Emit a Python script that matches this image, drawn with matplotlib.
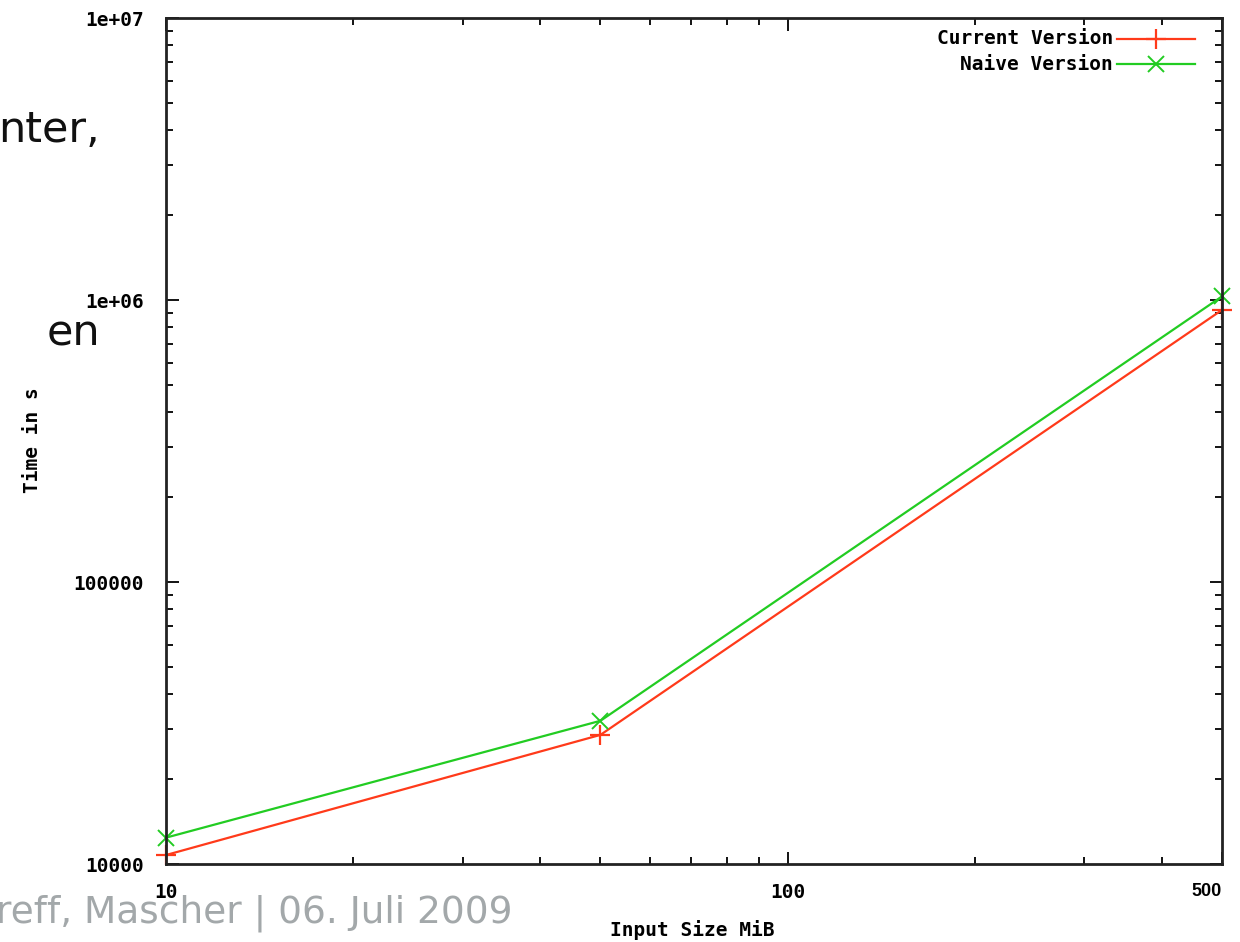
import matplotlib
matplotlib.use("Agg")
import matplotlib.pyplot as plt
from matplotlib.lines import Line2D
from matplotlib.ticker import LogLocator, NullFormatter, FixedLocator

# ---- data ----
input_size_mib = [10, 50, 500]
current_version = [10760, 28700, 922000]
naive_version = [12400, 32200, 1030000]
series_labels = ["Current Version", "Naive Version"]
x_tick_values = [10, 100, 500]
x_tick_labels = ["10", "100", "500"]
y_tick_values = [1e4, 1e5, 1e6, 1e7]
y_tick_labels = ["10000", "100000", "1e+06", "1e+07"]

W, H = 1240, 942
fig = plt.figure(figsize=(W / 100, H / 100), dpi=100)
fig.patch.set_facecolor("white")

L, R, T, B = 166, 1222, 18, 864
ax = fig.add_axes([L / W, (H - B) / H, (R - L) / W, (B - T) / H])
AW, AH = R - L, B - T

MONO = "DejaVu Sans Mono"
FS = 14
mono = {"family": MONO, "weight": "bold", "size": FS}

red = "#ff3a1a"
green = "#22cc22"
styles = [dict(color=red, marker="+", ms=14, mew=1.6),
          dict(color=green, marker="x", ms=11, mew=1.4)]
for vals, st in zip([current_version, naive_version], styles):
    ax.plot(input_size_mib, vals, lw=1.6, clip_on=False, **st)

ax.set_xscale("log")
ax.set_yscale("log")
ax.set_xlim(10, 500)
ax.set_ylim(1e4, 1e7)

ax.xaxis.set_major_locator(FixedLocator(x_tick_values))
ax.set_xticklabels(x_tick_labels)
ax.xaxis.set_minor_locator(LogLocator(base=10, subs=range(2, 10)))
ax.xaxis.set_minor_formatter(NullFormatter())
ax.yaxis.set_major_locator(FixedLocator(y_tick_values))
ax.set_yticklabels(y_tick_labels)
ax.yaxis.set_minor_locator(LogLocator(base=10, subs=range(2, 10)))
ax.yaxis.set_minor_formatter(NullFormatter())

ax.tick_params(which="both", direction="in", top=True, right=True,
               color="black", width=1.3)
ax.tick_params(which="major", length=9)
ax.tick_params(which="minor", length=5)
ax.tick_params(axis="x", pad=14)
ax.tick_params(axis="y", pad=16)

for lab in ax.get_xticklabels() + ax.get_yticklabels():
    lab.set_fontfamily(MONO)
    lab.set_fontweight("bold")
    lab.set_fontsize(FS)
xl = ax.get_xticklabels()
xl[2].set_fontfamily("Liberation Sans")
xl[2].set_fontsize(13)
xl[2].set_ha("right")

for s in ax.spines.values():
    s.set_linewidth(2)
    s.set_color("#222222")

ax.set_xlabel("Input Size MiB", fontdict=mono)
ax.xaxis.label.set_va("center")
ax.set_ylabel("Time in s", fontdict=mono)
ax.yaxis.label.set_va("center")
ax.xaxis.set_label_coords((692 - L) / AW, -(930 - B) / AH)
ax.yaxis.set_label_coords(-(L - 32) / AW, (B - 440) / AH)

# legend (gnuplot style: right-aligned text, sample line on the right)
leg_rows = [39, 64]
for lbl, st, yy in zip(series_labels, styles, leg_rows):
    ya = (B - yy) / AH
    ax.text((1113 - L) / AW, ya, lbl, transform=ax.transAxes, ha="right",
            va="center", **mono)
    ax.add_line(Line2D([(1117 - L) / AW, (1195 - L) / AW], [ya, ya],
                       transform=ax.transAxes, lw=1.6, color=st["color"]))
    ax.add_line(Line2D([(1156 - L) / AW], [ya], transform=ax.transAxes,
                       ls="none", **st))

# slide remnants behind the chart
fig.text(100 / W, 1 - 142 / H, "nter,", fontsize=31, color="#111111",
         family="DejaVu Sans", ha="right", va="baseline")
fig.text(100 / W, 1 - 345 / H, "en", fontsize=31, color="#111111",
         family="DejaVu Sans", ha="right", va="baseline")
fig.text(-4 / W, 1 - 922 / H, "reff, Mascher | 06. Juli 2009", fontsize=27,
         color="#a3a8aa", family="DejaVu Sans", ha="left", va="baseline",
         zorder=0)

fig.savefig("out.png", dpi=100, facecolor="white")
